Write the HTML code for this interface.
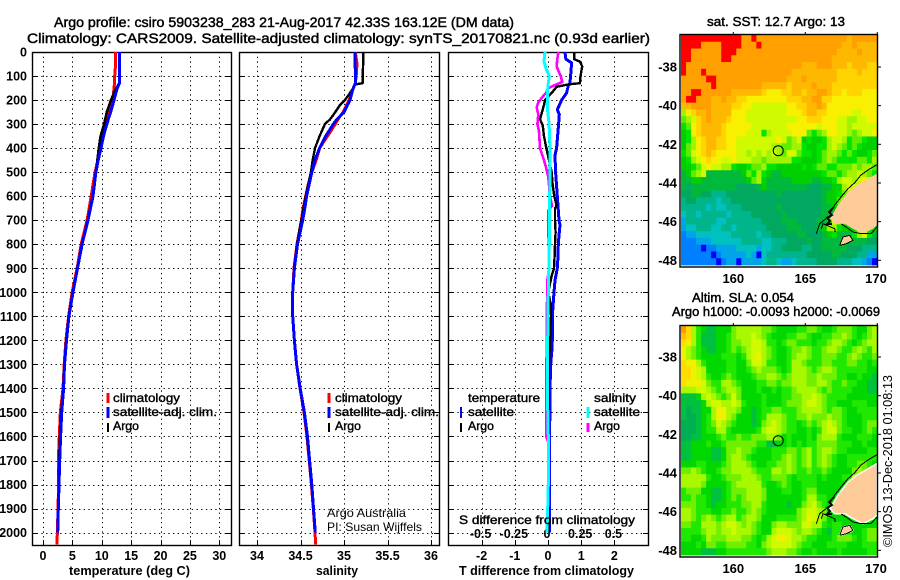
<!DOCTYPE html>
<html>
<head>
<meta charset="utf-8">
<title>Argo profile</title>
<style>
html,body{margin:0;padding:0;background:#fff;}
svg{display:block;}
text{font-family:"Liberation Sans",sans-serif;fill:#000;}
.t{font-size:14px;stroke:#000;stroke-width:.45px;}
.b{font-size:12.5px;font-weight:bold;}
.l{font-size:12px;stroke:#000;stroke-width:.4px;}
.c{font-size:12px;}
</style>
</head>
<body>
<svg id="fig" width="900" height="580" viewBox="0 0 900 580" xmlns="http://www.w3.org/2000/svg">
<defs>
<clipPath id="clip1"><rect x="32" y="52" width="199" height="493"/></clipPath>
<clipPath id="clip2"><rect x="239" y="52" width="200" height="493"/></clipPath>
<clipPath id="clip3"><rect x="448" y="52" width="200" height="493"/></clipPath>
</defs>
<text class="t" x="54" y="27" textLength="460" lengthAdjust="spacingAndGlyphs">Argo profile: csiro 5903238_283 21-Aug-2017 42.33S 163.12E (DM data)</text>
<text class="t" x="27" y="43" textLength="623" lengthAdjust="spacingAndGlyphs">Climatology: CARS2009. Satellite-adjusted climatology: synTS_20170821.nc (0.93d earlier)</text>

<g id="panels"></g>

<g>
<line x1="108" x2="108" y1="393" y2="403" stroke="#f00" stroke-width="3"/>
<line x1="108" x2="108" y1="407" y2="418" stroke="#00f" stroke-width="3"/>
<line x1="108" x2="108" y1="423" y2="432" stroke="#000" stroke-width="2"/>
<text class="l" x="113" y="402" textLength="67" lengthAdjust="spacingAndGlyphs">climatology</text>
<text class="l" x="113" y="416" textLength="104" lengthAdjust="spacingAndGlyphs">satellite-adj. clim.</text>
<text class="l" x="113" y="430" textLength="26" lengthAdjust="spacingAndGlyphs">Argo</text>
</g>
<g>
<line x1="329" x2="329" y1="393" y2="403" stroke="#f00" stroke-width="3"/>
<line x1="329" x2="329" y1="407" y2="418" stroke="#00f" stroke-width="3"/>
<line x1="329" x2="329" y1="423" y2="432" stroke="#000" stroke-width="2"/>
<text class="l" x="335" y="402" textLength="67" lengthAdjust="spacingAndGlyphs">climatology</text>
<text class="l" x="335" y="416" textLength="104" lengthAdjust="spacingAndGlyphs">satellite-adj. clim.</text>
<text class="l" x="335" y="430" textLength="26" lengthAdjust="spacingAndGlyphs">Argo</text>
<text class="c" x="327" y="517" textLength="79" lengthAdjust="spacingAndGlyphs">Argo Australia</text>
<text class="c" x="327" y="531" textLength="95" lengthAdjust="spacingAndGlyphs">PI: Susan Wijffels</text>
</g>
<g>
<text class="l" x="468" y="402" textLength="72" lengthAdjust="spacingAndGlyphs">temperature</text>
<line x1="461" x2="461" y1="407" y2="418" stroke="#00f" stroke-width="2"/>
<line x1="461" x2="461" y1="423" y2="432" stroke="#000" stroke-width="2"/>
<text class="l" x="468" y="416" textLength="46" lengthAdjust="spacingAndGlyphs">satellite</text>
<text class="l" x="468" y="430" textLength="26" lengthAdjust="spacingAndGlyphs">Argo</text>
<text class="l" x="594" y="402" textLength="42" lengthAdjust="spacingAndGlyphs">salinity</text>
<line x1="588" x2="588" y1="407" y2="418" stroke="#0ff" stroke-width="3"/>
<line x1="588" x2="588" y1="423" y2="432" stroke="#f0f" stroke-width="3"/>
<text class="l" x="594" y="416" textLength="46" lengthAdjust="spacingAndGlyphs">satellite</text>
<text class="l" x="594" y="430" textLength="26" lengthAdjust="spacingAndGlyphs">Argo</text>
<text class="l" x="459" y="524" textLength="176" lengthAdjust="spacingAndGlyphs">S difference from climatology</text>
</g>

<text class="b" x="69" y="575" textLength="121" lengthAdjust="spacingAndGlyphs">temperature (deg C)</text>
<text class="b" x="316" y="575" textLength="42" lengthAdjust="spacingAndGlyphs">salinity</text>
<text class="b" x="459" y="575" textLength="175" lengthAdjust="spacingAndGlyphs">T difference from climatology</text>

<g id="maps"></g>

<text class="t" style="font-size:13px" x="707" y="26" textLength="138" lengthAdjust="spacingAndGlyphs">sat. SST: 12.7 Argo: 13</text>
<text class="t" style="font-size:13px" x="692" y="302" textLength="102" lengthAdjust="spacingAndGlyphs">Altim. SLA: 0.054</text>
<text class="t" style="font-size:13px" x="672" y="316" textLength="208" lengthAdjust="spacingAndGlyphs">Argo h1000: -0.0093 h2000: -0.0069</text>
<text transform="translate(892,547) rotate(-90)" style="font-size:13px" textLength="172" lengthAdjust="spacingAndGlyphs">©IMOS 13-Dec-2018 01:08:13</text>
</svg>
<script>
const tempTicks = [0,5,10,15,20,25,30];
const salinityTicks = [34,34.5,35,35.5,36];
const tDiffTicks = [-2,-1,0,1,2];
const sDiffTicks = [-0.5,-0.25,0,0.25,0.5];
const depthTicks = [0,100,200,300,400,500,600,700,800,900,1000,1100,1200,1300,1400,1500,1600,1700,1800,1900,2000];
const lonTicks = [160,165,170];
const latTicks = [-38,-40,-42,-44,-46,-48];

const tempDepths = [0,50,100,130,150,170,200,250,300,350,400,450,500,600,700,800,900,1000,1100,1200,1300,1400,1500,1600,1700,1800,1900,2000,2050];
const climT = [12.3,12.35,12.2,12.15,12.1,12.0,11.85,11.3,10.7,10.3,9.87,9.35,8.85,8.2,7.5,6.5,5.8,4.95,4.35,3.9,3.6,3.4,2.95,2.78,2.6,2.65,2.55,2.45,2.35];
const satT = [13,13,13,13,12.65,12.4,12.1,11.5,10.85,10.3,9.87,9.4,9,8.5,7.65,6.65,5.87,5.1,4.4,4,3.66,3.5,3.18,3,2.84,2.72,2.6,2.5];
const argoT = [13,13,13,13,12.5,12.1,11.57,10.85,10.4,9.8,9.5,9.25,9,8.45,7.6,6.6,5.85,5.05,4.38,3.95,3.63,3.45,3.1,2.9,2.75,2.68,2.58,2.48];

const salDepths = [0,50,100,130,135,150,170,200,220,250,280,300,350,400,450,500,550,600,650,700,800,900,1000,1100,1200,1300,1400,1500,1600,1700,1800,1900,2000,2050];
const climS = [35.13,35.15,35.14,35.13,35.125,35.107,35.085,35.06,35.03,34.99,34.93,34.9,34.81,34.72,34.68,34.63,34.59,34.56,34.53,34.51,34.46,34.425,34.41,34.41,34.43,34.455,34.494,34.54,34.575,34.6,34.625,34.647,34.667,34.675];
const satS = [35.126,35.126,35.134,35.134,35.125,35.107,35.09,35.07,35.04,35.0,34.92,34.877,34.79,34.72,34.667,34.63,34.6,34.57,34.55,34.525,34.465,34.43,34.41,34.41,34.43,34.455,34.497,34.545,34.58,34.605,34.63,34.65,34.67];
const argoS = [35.22,35.22,35.215,35.215,35.126,35.107,35.07,35.01,34.955,34.9,34.84,34.78,34.72,34.667,34.64,34.62,34.59,34.56,34.535,34.51,34.46,34.425,34.41,34.41,34.43,34.455,34.494,34.54,34.575,34.6,34.625,34.647,34.667];

const satDTDepths = [0,30,45,100,130,140,170,190,200,240,260,300,400,430,500,600,700,720,750,800,850,900,950,1000,1100,1200,1250,1300,1400,1500,1600,2000];
const satDT = [.51,.54,.71,.68,.66,.61,.56,.46,.41,.28,.34,.32,.26,.21,.23,.28,.33,.36,.34,.31,.30,.28,.21,.18,.13,.13,.11,.08,.06,.06,.04,.04];
const argoDTDepths = [0,30,40,60,100,130,135,145,170,200,220,280,305,350,400,450,500,550,600,640,650,700,750,800,850,900,930,1000,1050,1100,1150,1200,1300,1400,1600,2000];
const argoDT = [.79,.79,.96,1.03,.98,.96,.61,.26,.11,-.09,-.12,-.24,-.16,-.12,-.05,.03,.11,.14,.19,.26,.21,.21,.23,.21,.2,.18,.11,.01,.08,.09,.07,.06,.03,.03,.03,.02];
const argoDSDepths = [0,30,60,100,125,135,150,170,190,210,230,260,300,330,400,450,480,520,600,640,660,720,800,900,950,1000,1100,1200,1400,1600,1620];
const argoDS = [.078,.07,.065,.096,.108,.065,.003,-.015,-.047,-.073,-.085,-.073,-.08,-.068,-.06,-.03,-.015,.002,.015,.03,.002,.002,.005,.01,-.005,-.005,-.01,-.01,-.013,-.013,0];
const satDSDepths = [0,40,70,100,130,170,240,300,400,500,600,800,1000,1200,1400,1600,1800,1900,2000];
const satDS = [-.023,-.03,-.015,.01,.002,-.005,-.004,.008,.015,.015,.013,.01,.002,-.002,-.005,.002,.002,-.002,-.008];

const sstPalette = {A:'#0000ff',B:'#0080ff',C:'#00a4e8',D:'#00c0c0',E:'#00b48c',F:'#00a860',G:'#00b83c',H:'#00d000',I:'#00e400',J:'#60ec00',K:'#a0f400',L:'#d0fa00',M:'#f8f000',N:'#ffd400',O:'#ffb800',P:'#ffa000',Q:'#ff0000'};
const slaPalette = {F:'#00b050',G:'#00c040',H:'#00d800',I:'#20e800',J:'#70f000',K:'#a8f800',L:'#d0fa00',M:'#f0f000',N:'#ffdc00',O:'#ffbc00',P:'#ff9800'};
const sstRows = [
"QQQQQQQQQQQQPPQPPPPPPPPPPPPPPPPPPOPPPPP",
"QQQQPPPPQQQQPPPQPPPPPPPPPPPPPPPPOOPOOOO",
"QQPPPPPPQQQPPPPPPPPPPPPPPPPPPPPOOOOPOOO",
"QQPPPPPPQQPPPPPPPPPPPPPPPPPPPPOOOOOOOOO",
"QPPPPPPPPPPPPPPPPPPPPPPPOOOPPPOOONOOONN",
"QPPPQPPPPPPPPPPPPPPPPPOOOOOOOOONNNNONNN",
"PPPPPQQPPPPPPPPPPPPPPOOOPOOOOOONNNNNNNN",
"PPPPPPQPPPPPPPPPOOOOONOOOOPOOONNNNNNNNN",
"PPQQPPPPPPOOOOOONMMMNNOONOOPPONNMNNNMMM",
"PQQPPPOOPOONNMMMMMMMMNNNOOPPNNMMMMMMMMM",
"OOPPPPOOOONNMMLLLLLLLMMNNOOPOMMMMMMMMMM",
"KMNOOPOOOOMMMLLLLLLLLMMMNOONNMMMMMLLMMM",
"JKLNOPOOONMMMLLLLLLLLLLMMNNNMMMLLKKLLMM",
"IJMNOOOONMMMMMLLLLLLLMMMMMMLMMMLLKLLLLL",
"HIMNOOOONMMMMLLLIKLLLLMMMJIJKMMLLKJKLLM",
"HIKMNOONNMMLLLLLLLLMLJKLHIHHIKLLKIJJIHH",
"HJKMNOONNMMLLLLLLLKKJJKKIHHIIKLKJIJIHHH",
"IJLMNONMMMMLLKLKLKLKJLLJIIHIJKKJIJIHHIJ",
"HIKLMNMMLLMLLLKKJKKKKKIIHHHIJKJIIIIJJIK",
"HHIJLMLLKKIHHIJJKIIHHHHHIHIJJIIJJJKJKKJ",
"GHJKLGGGGGGGHJIKIHGGHHHHHHHHIJJIJKKLKJI",
"GGHHGGGGGGGGGHJKHGGGGGHHHHGGHHIKLLKLMLJ",
"GFGGGGGGGGGFFFFGHGGGGGGGGFFFGGHHKLLLLLH",
"FFGGFFEEEFFFFFFFFFFGFFFFFFFFGHHIJKLLKHH",
"EFFEEEEDEEFFFFFFFFFFFFFFFFFFGHHJKKJHHHH",
"EEEEEDEDDEEEFFFFFFFGFFFFFFFFGGHIJJIHHHH",
"DEEDEEEEEDEEEEFFFFFFGFFFFFFFGGGGIJIHHHH",
"CEEEEEEDDEEEEEEEFFFFGGGFFFFGGHLKJGHHHHH",
"CDDEEEDDEEDEEEEEEFFFFGGGFFFGHKKIHHHHHHH",
"BCCDDDDDDDEEEEEDEEFFFFFGGFFFGHIGGGIKLIG",
"BBBCCCDDDDDDEEEEDDEEEFFFFGFFGGGGGGGGGFF",
"BBBBABBCCCCDDDDCDDEEFFFFEEFFGGGGGFFFEEE",
"BBBBBBABCCCCCDCADEEEEEEEEFFFFFGGFFFEECC",
"BBBBBBBABCCACCCCDEEDCCDEEEEFFFFEEEDDCBA"
];
const slaRows = [
"PNKIHGGHHHJKKKKKJJIHHHHIIJJIHHIJJJIHHJK",
"ONKIGGGHHIJKKKLKJIHHHIIJJIHHIIJJKJIHIJK",
"NMKIGGGHHIJJKKLLKIIHIJJIIIHIIJKKJIHIJKK",
"MKJIHGGHHIJIJKLLKJIHHIJJKJIIJKKJIIJKJIK",
"MKJIHHHHIIIHIKLMKJIHHIJKKJIIJJJIIJKJIIJ",
"NMMKIHHHHIIHHJLLKIIHHIKKJIIIJJIIIJJIIHI",
"NNMLKHHHHIIHHIJKJJJIHIKKKJIJKKJIIIIIIHH",
"NNMLKIHHIJIHHHIJJKKJIJKKKJJKJJJIIHHIHHG",
"NMMMLJIIKKJIHHHIIJJIJJKKKJJKKJIIJIIHHGG",
"KKKLLKJIJKKJHHHIHHIHIIJKKKKJIJIIIIHHHGG",
"GGGHKLKJIJLJHHHHIHHHIIJJKKLKJIIIIHHHHHH",
"GGGGHKLLKKLKIHHHIHHHIJJJKLLKJIIHHHIIIHH",
"GFGGHHKMMKKJHHGHIIJJIIIJKKKKJIJJIHHIIII",
"GFFGHIKMMKJHHHGHIKKKJIIJJKJJJKJJIHHHIII",
"FFFGHIJLKJIHHHGHJKLKJIIHIJIJKLKJIHHHIJJ",
"FFFGHIIKKIHHHHHIKLLKJIIHHIHIKLLJIIHHIJI",
"FFGGHHHIJIIJIIJJJKKJHIHHHIHJKKKIHHHIIIH",
"GGHHHIHHIJJJJJJIIGGHHIHIHIIJJJJIIIHHIHH",
"GGHHHHGGHJJKJJIHHHIIIJJIJKIJKKJIIHHHHII",
"GGHHHHGGHJKKJIHHHHIIJKJIJKIJKJIHHIIIIII",
"HHHIIHHHIJKKKJIHHIIJJKJIJKIJKJIHHIIJJIH",
"JJKJIHHIJJKKKKJIIIKKJKJIIJIIJIHHHHJKJIH",
"KKKKKIHHIJJJKKKJIIJJJIHIIIIHIHHHIIKKJIH",
"KKKKJHHHHIJKKKKKIHHIJIHHIIIHHHHHHIIJIHH",
"IJJJHHGGHIJJJKKKJHHHIIHHIJJHHHHHHHHHHHH",
"IIJIIHGGHIJIJKKKJHHHHHHHIKKIIHHHIHHHHHH",
"JJJIIHGHHIIIJJKKIHHHHGHHJKLJIHHHHHHHHHH",
"KKJIIIHHIIJIIJKJIHHHHHHJKLLKJHHHHHHHHHH",
"KKJIJKJIJKKIJKKJHHHIIIIJKMLKJHHHHHHHHHH",
"JJIIKKKJKLLKJKJIHHJKKJJJLLKKIHIIHHHHHHH",
"IIIIJKKJKKLKKKJIHHKLLLKJKKJIHGIIIIHHIJJ",
"IIHHIKJJJKKKJJIHIKLMMLKKJIIHHHIJJJIHIJJ",
"HHHIHJJIIJJJJIIHJKLLLLKJIIHHHIIIIHHHIII",
"HHHHGGGHHIIIIIIIIJKKKJJIHHIHHHHIHHHHHII"
];
const argoLon = 163.12;
const argoLat = -42.33;

const NS = 'http://www.w3.org/2000/svg';
function mk(parent, tag, attrs, text) {
  const el = document.createElementNS(NS, tag);
  for (const k in attrs) el.setAttribute(k, attrs[k]);
  if (text !== undefined) el.textContent = text;
  parent.appendChild(el);
  return el;
}
const yDepth = d => 52 + 0.2403 * d;
const panels = document.getElementById('panels');

function drawPanel(px, pw, xScale, xTicks, showDepth, pname, fmt) {
  const g = mk(panels, 'g', {});
  
  
  depthTicks.forEach(d => {
    if (d === 0) return;
    const y = Math.round(yDepth(d)) + 0.5;
    const gl = mk(g, 'line', {x1: px, x2: px + pw, y1: y, y2: y, stroke: '#000', 'stroke-width': 1, 'stroke-dasharray': '1.3 3.4'});
    
    
    const tk = mk(g, 'line', {x1: px, x2: px + 5, y1: y, y2: y, stroke: '#000', 'stroke-width': 1});
    
    
    const tk2 = mk(g, 'line', {x1: px + pw - 5, x2: px + pw, y1: y, y2: y, stroke: '#000', 'stroke-width': 1});
    
    
  });
  if (showDepth) {
    depthTicks.forEach(d => {
      const lb = mk(g, 'text', {class: 'b', x: 27, y: yDepth(d) + 4.5, 'text-anchor': 'end'}, String(d));
      
      
    });
  }
  xTicks.forEach(v => {
    const x = Math.round(xScale(v)) + 0.5;
    const gl = mk(g, 'line', {x1: x, x2: x, y1: 52, y2: 545, stroke: '#000', 'stroke-width': 1, 'stroke-dasharray': '1.3 3.4'});
    
    
    const tk = mk(g, 'line', {x1: x, x2: x, y1: 540, y2: 545, stroke: '#000', 'stroke-width': 1});
    
    
    const lb = mk(g, 'text', {class: 'b', x: xScale(v), y: 560, 'text-anchor': 'middle'}, fmt(v));
    
    
  });
  const fr = mk(g, 'rect', {x: px + .5, y: 52.5, width: pw, height: 493, fill: 'none', stroke: '#000', 'stroke-width': 1.4});
  
  
}
function drawSeries(depths, vals, xScale, color, w, clip, name) {
  const pts = vals.map((v, i) => xScale(v).toFixed(1) + ',' + yDepth(depths[i]).toFixed(1)).join(' ');
  const el = mk(panels, 'polyline', {points: pts, fill: 'none', stroke: color, 'stroke-width': w, 'clip-path': 'url(#' + clip + ')', 'shape-rendering': 'crispEdges', 'stroke-linejoin': 'round'});
  
  
}

const xTemp = v => 43 + 5.877 * v;
const xSal = v => 257 + 87 * (v - 34);
const xDT = v => 548 + 33.2 * v;
const xDS = v => 548 + 132.8 * v;

drawPanel(32, 199, xTemp, tempTicks, true, 'temperature-panel', String);
drawPanel(239, 200, xSal, salinityTicks, false, 'salinity-panel', String);
drawPanel(448, 200, xDT, tDiffTicks, false, 'difference-panel', String);

sDiffTicks.forEach(v => {
  const lb = mk(panels, 'text', {class: 'b', x: xDS(v) - 1, y: 538, 'text-anchor': 'middle'}, String(v));
  
  
});

drawSeries(tempDepths, climT, xTemp, '#f00', 3, 'clip1', 'temperature-climatology-line');
drawSeries(tempDepths, argoT, xTemp, '#000', 2.6, 'clip1', 'temperature-argo-line');
drawSeries(tempDepths, satT, xTemp, '#00f', 3, 'clip1', 'temperature-satellite-line');
drawSeries(salDepths, climS, xSal, '#f00', 3, 'clip2', 'salinity-climatology-line');
drawSeries(salDepths, argoS, xSal, '#000', 2.4, 'clip2', 'salinity-argo-line');
drawSeries(salDepths, satS, xSal, '#00f', 3, 'clip2', 'salinity-satellite-line');
drawSeries(satDTDepths, satDT, xDT, '#00f', 3, 'clip3', 'temperature-difference-satellite-line');
drawSeries(argoDTDepths, argoDT, xDT, '#000', 2.4, 'clip3', 'temperature-difference-argo-line');
drawSeries(argoDSDepths, argoDS, xDS, '#f0f', 2.6, 'clip3', 'salinity-difference-argo-line');
drawSeries(satDSDepths, satDS, xDS, '#0ff', 3, 'clip3', 'salinity-difference-satellite-line');

const maps = document.getElementById('maps');
const xLon = lon => 733.3 + 14.4 * (lon - 160);
const yLat = (lat, off) => 67 - 19.33 * (lat + 38) + off;

function drawMap(rows, palette, off, frameTop, frameBottom, labelY, name, fringe) {
  const g = mk(maps, 'g', {});
  
  
  const cols = rows[0].length;
  const left = 681, right = 877, top = frameTop + 1, bottom = frameBottom - 1.5;
  const cw = (right - left) / cols, ch = (bottom - top) / rows.length;
  rows.forEach((row, r) => {
    for (let c = 0; c < cols; c++) {
      const key = row[Math.min(c, row.length - 1)];
      const cell = mk(g, 'rect', {x: (left + c * cw).toFixed(2), y: (top + r * ch).toFixed(2), width: (cw + .4).toFixed(2), height: (ch + .4).toFixed(2), fill: palette[key]});
      
      
    }
  });
  const land = mk(g, 'g', {transform: 'translate(0,' + off + ')'});
  
  
  const lw = fringe ? {stroke: '#fff', 'stroke-width': 1.5} : {};
  mk(land, 'polygon', Object.assign({points: '877,173.5 866,180 857,185 848,192 838,205 833,213.7 830,218.7 834.7,223.7 844.7,223.7 853,228.7 863,233.7 873,228.7 877,225', fill: '#ffcc99'}, lw));
  mk(land, 'polygon', Object.assign({points: '839.7,245.3 843,237 849.7,235.3 853,240.3 846.3,243.7', fill: '#ffcc99'}, lw));
  mk(land, 'path', {d: 'M877,164.7 868,170 861,175 854.7,182.7 848,188.7 841,197 834.7,205 829.7,213.7 M826,218.7 819.7,223.7 816.3,233.7 M821.3,228.7 823,223.7 834.7,228.7 835.3,232 M841.3,223.7 853,232 861,233.7 871,233.7 877,227 M839.7,245.3 843,237 849.7,235.3 853,240.3 846.3,243.7 839.7,245.3', fill: 'none', stroke: '#000', 'stroke-width': 1, 'shape-rendering': 'crispEdges'});
  mk(land, 'path', {d: 'M834,207 829,212 832,215 827,218 830,221 827,224 832,224', fill: 'none', stroke: '#000', 'stroke-width': 2, 'shape-rendering': 'crispEdges'});
  const marker = mk(g, 'circle', {cx: xLon(argoLon), cy: yLat(argoLat, off), r: 5, fill: 'none', stroke: '#000', 'stroke-width': 1});
  
  
  const fr = mk(g, 'rect', {x: 680, y: frameTop + .5, width: 197.5, height: frameBottom - frameTop, fill: 'none', stroke: '#000', 'stroke-width': 1.4});
  
  
  lonTicks.forEach(lon => {
    const x = xLon(lon);
    const tk = mk(g, 'line', {x1: x, x2: x, y1: frameTop - 2, y2: frameTop + .5, stroke: '#000', 'stroke-width': 1});
    
    
    const lb = mk(g, 'text', {class: 'b', x: lon === 170 ? 876 : x, y: labelY, 'text-anchor': 'middle', style: 'font-size:13px'}, String(lon));
    
    
  });
  latTicks.forEach(lat => {
    const y = yLat(lat, off);
    const tk = mk(g, 'line', {x1: 877, x2: 881, y1: y, y2: y, stroke: '#000', 'stroke-width': 1});
    
    
    const lb = mk(g, 'text', {class: 'b', x: 677, y: y + 4.5, 'text-anchor': 'end', style: 'font-size:13px'}, String(lat));
    
    
  });
}
drawMap(sstRows, sstPalette, 0, 34, 266.5, 283, 'sst-map', false);
drawMap(slaRows, slaPalette, 290, 325, 556.5, 573, 'sla-map', true);
</script>
</body>
</html>
